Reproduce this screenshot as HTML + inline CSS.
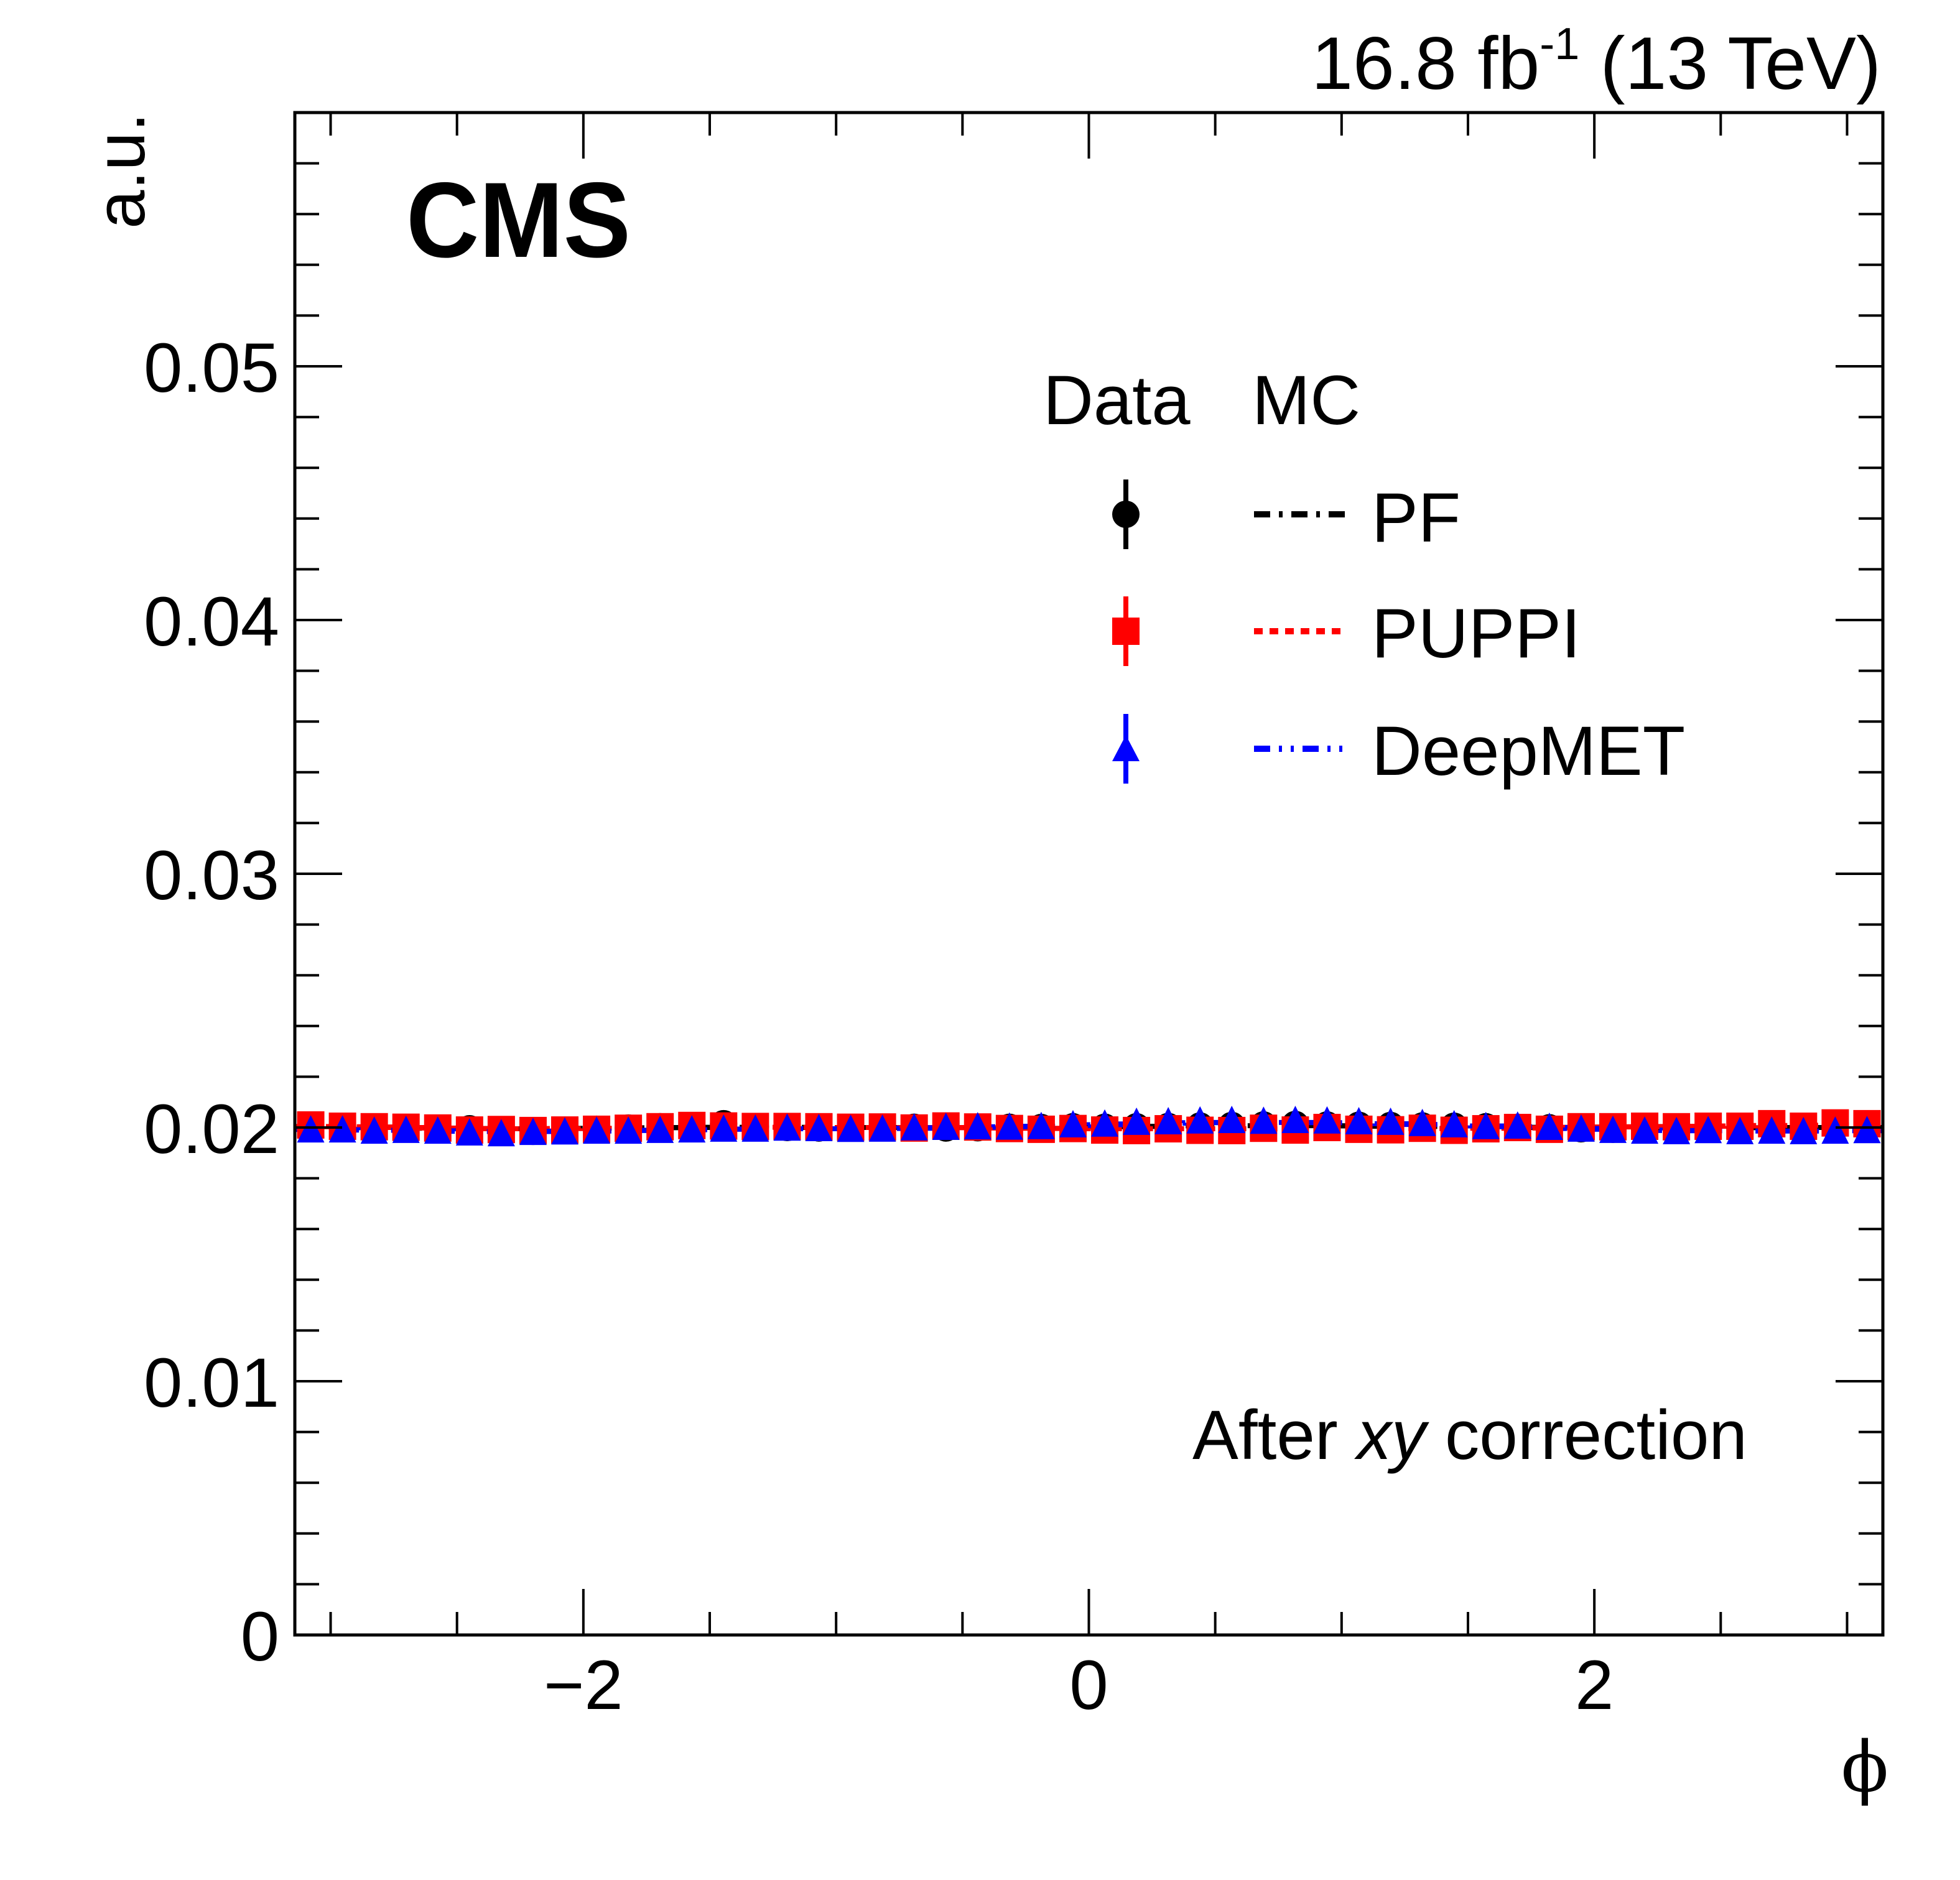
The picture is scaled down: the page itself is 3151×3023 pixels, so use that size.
<!DOCTYPE html>
<html><head><meta charset="utf-8">
<style>
html,body{margin:0;padding:0;background:#fff;}
svg{display:block;}
text{font-family:"Liberation Sans",Arial,sans-serif;fill:#000;}
</style></head>
<body>
<svg id="chart" width="3151" height="3023" viewBox="0 0 3151 3023" xmlns="http://www.w3.org/2000/svg">
<rect x="0" y="0" width="3151" height="3023" fill="#fff"/>
<g id="mc"></g>
<g id="marks"></g>
<rect x="474" y="181" width="2553" height="2448" fill="none" stroke="#000" stroke-width="5"/>
<g id="ticks"></g>
<g id="labels"></g>

<text x="3024" y="143" font-size="120" text-anchor="end">16.8 fb<tspan dy="-48" font-size="72">-1</tspan><tspan dy="48"> (13 TeV)</tspan></text>
<text x="653" y="413" font-size="172" font-weight="bold" textLength="361" lengthAdjust="spacingAndGlyphs">CMS</text>
<text transform="translate(232,181) rotate(-90)" font-size="112" text-anchor="end">a.u.</text>
<text x="2998" y="2880" font-size="112" text-anchor="middle" style="font-family:'DejaVu Serif','Liberation Serif',serif">ϕ</text>
<text x="1917" y="2346" font-size="112" textLength="892" lengthAdjust="spacingAndGlyphs">After <tspan font-style="italic">xy</tspan> correction</text>

<g>
<text x="1677" y="682" font-size="112">Data</text>
<text x="2013" y="682" font-size="112">MC</text>
<g>
<line x1="1810" y1="771" x2="1810" y2="883" stroke="#000" stroke-width="8"/>
<circle cx="1810" cy="827" r="22" fill="#000"/>
<line x1="2016" y1="827" x2="2165" y2="827" stroke="#000" stroke-width="10" stroke-dasharray="26,14,6,14"/>
<text x="2205" y="871" font-size="112">PF</text>
</g>
<g>
<line x1="1810" y1="959" x2="1810" y2="1071" stroke="#f00" stroke-width="8"/>
<rect x="1788" y="993" width="44" height="44" fill="#f00"/>
<line x1="2016" y1="1015" x2="2165" y2="1015" stroke="#f00" stroke-width="10" stroke-dasharray="14,11"/>
<text x="2205" y="1057" font-size="112">PUPPI</text>
</g>
<g>
<line x1="1810" y1="1148" x2="1810" y2="1260" stroke="#00f" stroke-width="8"/>
<polygon points="1810,1182 1832,1224 1788,1224" fill="#00f"/>
<line x1="2016" y1="1204" x2="2160" y2="1204" stroke="#00f" stroke-width="10" stroke-dasharray="26,14,5,14,5,14"/>
<text x="2205" y="1246" font-size="112">DeepMET</text>
</g>
</g>
</svg>
<script>
// ---- chart data ----
const xMin = -3.14159, xMax = 3.14159, nBins = 50;
const yMin = 0, yMax = 0.06;
const xTickLabels = ["−2", "0", "2"];
const xTickValues = [-2, 0, 2];
const yTickLabels = ["0", "0.01", "0.02", "0.03", "0.04", "0.05"];
const yTickValues = [0, 0.01, 0.02, 0.03, 0.04, 0.05];
const dataPF = [0.02003,0.02005,0.02000,0.01998,0.01997,0.01995,0.01990,0.01985,0.01988,0.01993,
0.01998,0.02003,0.02005,0.02015,0.02003,0.02000,0.01998,0.01999,0.02000,0.02001,
0.01998,0.01999,0.02001,0.02000,0.02003,0.02001,0.02003,0.02004,0.02006,0.02008,
0.02010,0.02012,0.02010,0.02009,0.02008,0.02006,0.02005,0.02003,0.02001,0.01999,
0.01995,0.01993,0.01995,0.01997,0.01998,0.01998,0.02000,0.01999,0.02000,0.02001];
const dataPUPPI = [0.02010,0.02005,0.02003,0.02001,0.01998,0.01990,0.01992,0.01988,0.01990,0.01993,
0.01997,0.02003,0.02008,0.02006,0.02004,0.02004,0.02003,0.02001,0.02002,0.01998,
0.02006,0.02002,0.01996,0.01993,0.01996,0.01990,0.01988,0.01995,0.01989,0.01988,
0.01997,0.01990,0.02000,0.01993,0.01991,0.01997,0.01989,0.01995,0.02000,0.01993,
0.02003,0.02003,0.02005,0.02003,0.02005,0.02005,0.02015,0.02005,0.02018,0.02015];
const dataDeepMET = [0.01990,0.01990,0.01985,0.01988,0.01985,0.01978,0.01975,0.01980,0.01982,0.01985,
0.01985,0.01988,0.01990,0.01993,0.01993,0.01997,0.01995,0.01992,0.01993,0.01998,
0.02000,0.02002,0.02001,0.02003,0.02010,0.02013,0.02020,0.02022,0.02025,0.02027,
0.02024,0.02027,0.02025,0.02022,0.02020,0.02015,0.02010,0.02003,0.02005,0.02000,
0.01993,0.01988,0.01985,0.01983,0.01987,0.01983,0.01985,0.01983,0.01985,0.01987];
const mcPF = [0.02001,0.02000,0.01999,0.01998,0.01997,0.01996,0.01995,0.01995,0.01996,0.01997,
0.01998,0.01999,0.02000,0.02001,0.02001,0.02001,0.02000,0.02000,0.02000,0.02000,
0.02000,0.02000,0.02001,0.02001,0.02002,0.02003,0.02004,0.02005,0.02006,0.02007,
0.02007,0.02007,0.02007,0.02006,0.02005,0.02004,0.02003,0.02002,0.02001,0.02000,
0.01999,0.01998,0.01998,0.01998,0.01998,0.01999,0.01999,0.02000,0.02000,0.02000];
const mcPUPPI = [0.02004,0.02003,0.02002,0.02000,0.01998,0.01996,0.01995,0.01995,0.01996,0.01997,
0.01999,0.02001,0.02002,0.02002,0.02002,0.02001,0.02001,0.02000,0.02000,0.02000,
0.02000,0.01999,0.01998,0.01997,0.01996,0.01995,0.01995,0.01995,0.01995,0.01995,
0.01995,0.01995,0.01996,0.01996,0.01996,0.01996,0.01996,0.01997,0.01998,0.01999,
0.02001,0.02002,0.02003,0.02004,0.02005,0.02006,0.02008,0.02009,0.02010,0.02011];
const mcDeepMET = [0.01992,0.01991,0.01990,0.01989,0.01987,0.01985,0.01984,0.01984,0.01985,0.01986,
0.01988,0.01989,0.01991,0.01993,0.01994,0.01995,0.01995,0.01995,0.01996,0.01997,
0.01999,0.02001,0.02003,0.02005,0.02008,0.02011,0.02014,0.02017,0.02019,0.02020,
0.02020,0.02020,0.02019,0.02017,0.02015,0.02012,0.02009,0.02006,0.02003,0.02000,
0.01996,0.01993,0.01990,0.01988,0.01987,0.01986,0.01986,0.01986,0.01986,0.01987];
const dataErr = [0.00005];

// ---- axis functions ----
const PX0 = 474, PX1 = 3027, PY0 = 2629, PY1 = 181;
function sx(v){ return PX0 + (v - xMin) / (xMax - xMin) * (PX1 - PX0); }
function sy(v){ return PY0 - (v - yMin) / (yMax - yMin) * (PY0 - PY1); }
const NS = "http://www.w3.org/2000/svg";
function mk(tag, attrs, parent){ const e = document.createElementNS(NS, tag); for (const k in attrs) e.setAttribute(k, attrs[k]); parent.appendChild(e); return e; }
const binW = (xMax - xMin) / nBins;
function binCenter(i){ return xMin + (i + 0.5) * binW; }

// ---- ticks ----
const ticks = document.getElementById('ticks');
for (let k = 0; k <= 30; k++) {
  const v = k * 0.002; if (v > yMax + 1e-9) break;
  const major = (k % 5 === 0);
  const len = major ? 76 : 39;
  const y = sy(v);
  const t1 = mk('line', {x1: PX0, y1: y, x2: PX0 + len, y2: y, stroke: '#000', 'stroke-width': 4}, ticks);
  
  
  const t2 = mk('line', {x1: PX1, y1: y, x2: PX1 - len, y2: y, stroke: '#000', 'stroke-width': 4}, ticks);
  
  
}
for (let k = -6; k <= 6; k++) {
  const v = k * 0.5; if (v < xMin || v > xMax) continue;
  const major = (k % 4 === 0);
  const len = major ? 74 : 37;
  const x = sx(v);
  const t1 = mk('line', {x1: x, y1: PY0, x2: x, y2: PY0 - len, stroke: '#000', 'stroke-width': 4}, ticks);
  
  
  const t2 = mk('line', {x1: x, y1: PY1, x2: x, y2: PY1 + len, stroke: '#000', 'stroke-width': 4}, ticks);
  
  
}
const labels = document.getElementById('labels');
yTickValues.forEach((v, i) => {
  const t = mk('text', {x: 449, y: sy(v) + 41, 'font-size': 112, 'text-anchor': 'end'}, labels);
  t.textContent = yTickLabels[i];
  
  
});
xTickValues.forEach((v, i) => {
  const t = mk('text', {x: sx(v), y: 2748, 'font-size': 112, 'text-anchor': 'middle'}, labels);
  t.textContent = xTickLabels[i];
  
  
});

// ---- MC histograms ----
const mcG = document.getElementById('mc');
function stepPath(arr){
  let d = '';
  arr.forEach((v, i) => {
    const x0 = sx(xMin + i * binW), x1 = sx(xMin + (i + 1) * binW), y = sy(v);
    d += (i === 0 ? 'M' : 'L') + x0 + ',' + y + ' L' + x1 + ',' + y + ' ';
  });
  return d;
}
const p1 = mk('path', {d: stepPath(mcPF), fill: 'none', stroke: '#000', 'stroke-width': 8, 'stroke-dasharray': '26,14,6,14'}, mcG);


const p2 = mk('path', {d: stepPath(mcPUPPI), fill: 'none', stroke: '#f00', 'stroke-width': 8, 'stroke-dasharray': '14,11'}, mcG);


const p3 = mk('path', {d: stepPath(mcDeepMET), fill: 'none', stroke: '#00f', 'stroke-width': 8, 'stroke-dasharray': '26,14,5,14,5,14'}, mcG);



// ---- data markers ----
const marks = document.getElementById('marks');
dataPF.forEach((v, i) => {
  const x = sx(binCenter(i)), y = sy(v);
  const e = mk('line', {x1: x, y1: sy(v + dataErr[0]), x2: x, y2: sy(v - dataErr[0]), stroke: '#000', 'stroke-width': 8}, marks);
  
  
  const c = mk('circle', {cx: x, cy: y, r: 22, fill: '#000'}, marks);
  
  
});
dataPUPPI.forEach((v, i) => {
  const x = sx(binCenter(i)), y = sy(v);
  const e = mk('line', {x1: x, y1: sy(v + dataErr[0]), x2: x, y2: sy(v - dataErr[0]), stroke: '#f00', 'stroke-width': 8}, marks);
  
  
  const r = mk('rect', {x: x - 22, y: y - 22, width: 44, height: 44, fill: '#f00'}, marks);
  
  
});
dataDeepMET.forEach((v, i) => {
  const x = sx(binCenter(i)), y = sy(v);
  const e = mk('line', {x1: x, y1: sy(v + dataErr[0]), x2: x, y2: sy(v - dataErr[0]), stroke: '#00f', 'stroke-width': 8}, marks);
  
  
  const t = mk('polygon', {points: x + ',' + (y - 24) + ' ' + (x + 22) + ',' + (y + 20) + ' ' + (x - 22) + ',' + (y + 20), fill: '#00f'}, marks);
  
  
});
</script>
</body></html>
